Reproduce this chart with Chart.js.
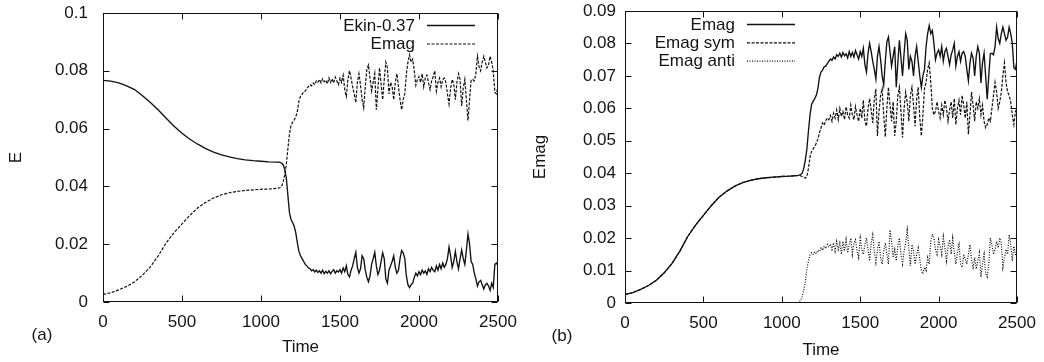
<!DOCTYPE html>
<html>
<head>
<meta charset="utf-8">
<script src="https://cdn.jsdelivr.net/npm/chart.js@4.4.1/dist/chart.umd.min.js"></script>
<style>
  html, body { margin: 0; padding: 0; background: #fff; }
  body { width: 1044px; height: 362px; position: relative; overflow: hidden; }
  canvas { position: absolute; top: 0; }
</style>
</head>
<body>
<canvas id="ca" width="520" height="362" style="left:0"></canvas>
<canvas id="cb" width="524" height="362" style="left:520px"></canvas>
<script>
// ---------- DATA ----------
const time = [
  0,50,100,150,200,250,300,350,400,450,500,550,600,650,700,750,800,850,900,950,1000,1050,
  1100,1110,1120,1130,1140,1150,1160,1170,1180,1190,
  1200,1210,1220,1230,1240,1250,1260,1270,1280,1290,
  1300,1310,1320,1330,1340,1350,1360,1370,1380,1390,
  1400,1410,1420,1430,1440,1450,1460,1470,1480,1490,
  1500,1510,1520,1530,1540,1550,1560,1570,1580,1590,
  1600,1610,1620,1630,1640,1650,1660,1670,1680,1690,
  1700,1710,1720,1730,1740,1750,1760,1770,1780,1790,
  1800,1810,1820,1830,1840,1850,1860,1870,1880,1890,
  1900,1910,1920,1930,1940,1950,1960,1970,1980,1990,
  2000,2010,2020,2030,2040,2050,2060,2070,2080,2090,
  2100,2110,2120,2130,2140,2150,2160,2170,2180,2190,
  2200,2210,2220,2230,2240,2250,2260,2270,2280,2290,
  2300,2310,2320,2330,2340,2350,2360,2370,2380,2390,
  2400,2410,2420,2430,2440,2450,2460,2470,2480,2490,
  2500
];

// Ekin - 0.37
const ekin = [
  0.0767,0.0764,0.0758,0.0748,0.0735,0.0714,0.0690,0.0664,0.0636,0.0608,0.0584,0.0563,0.0546,0.0531,0.0519,0.0509,0.0502,0.0496,0.0492,0.0489,0.0487,0.0485,
  0.0484,0.0484,0.0483,0.0481,0.0475,0.0460,0.0430,0.0370,0.0310,0.0285,
  0.0275,0.0262,0.0240,0.0205,0.0175,0.0160,0.0150,0.0140,0.0130,0.0125,
  0.0118,0.0115,0.0108,0.0112,0.0104,0.0110,0.0102,0.0108,0.0100,0.0110,
  0.0098,0.0106,0.0100,0.0108,0.0098,0.0106,0.0112,0.0100,0.0108,0.0104,
  0.0112,0.0100,0.0118,0.0105,0.0125,0.0095,0.0087,0.0110,0.0125,0.0150,
  0.0172,0.0120,0.0100,0.0115,0.0160,0.0150,0.0110,0.0085,0.0070,0.0090,
  0.0130,0.0150,0.0172,0.0125,0.0095,0.0110,0.0140,0.0170,0.0150,0.0080,
  0.0065,0.0110,0.0125,0.0140,0.0160,0.0120,0.0100,0.0110,0.0150,0.0178,
  0.0170,0.0150,0.0090,0.0060,0.0050,0.0060,0.0065,0.0085,0.0100,0.0090,
  0.0105,0.0095,0.0110,0.0100,0.0108,0.0095,0.0115,0.0105,0.0120,0.0110,
  0.0105,0.0125,0.0110,0.0130,0.0115,0.0135,0.0120,0.0130,0.0150,0.0190,
  0.0160,0.0120,0.0140,0.0175,0.0140,0.0115,0.0150,0.0180,0.0150,0.0130,
  0.0180,0.0235,0.0200,0.0140,0.0130,0.0100,0.0080,0.0055,0.0070,0.0075,
  0.0060,0.0045,0.0060,0.0065,0.0055,0.0040,0.0065,0.0050,0.0130,0.0135,
  0.0125
];

// Emag (total)
const emag = [
  0.0026,0.0032,0.0042,0.0054,0.0070,0.0093,0.0122,0.0160,0.0205,0.0240,0.0270,0.0300,0.0326,0.0345,0.0360,0.0371,0.0378,0.0383,0.0386,0.0388,0.0390,0.0391,
  0.0393,0.0394,0.0396,0.0400,0.0415,0.0440,0.0475,0.0530,0.0580,0.0612,
  0.0622,0.0630,0.0640,0.0660,0.0695,0.0712,0.0718,0.0728,0.0730,0.0738,
  0.0745,0.0752,0.0748,0.0758,0.0752,0.0765,0.0760,0.0770,0.0758,0.0772,
  0.0762,0.0768,0.0755,0.0775,0.0760,0.0772,0.0758,0.0778,0.0765,0.0752,
  0.0775,0.0760,0.0785,0.0735,0.0712,0.0770,0.0800,0.0775,0.0745,0.0720,
  0.0690,0.0760,0.0790,0.0750,0.0700,0.0672,0.0745,0.0805,0.0820,0.0775,
  0.0730,0.0760,0.0790,0.0665,0.0740,0.0810,0.0755,0.0700,0.0770,0.0830,
  0.0810,0.0720,0.0760,0.0745,0.0700,0.0760,0.0790,0.0745,0.0700,0.0665,
  0.0700,0.0720,0.0790,0.0830,0.0855,0.0830,0.0840,0.0800,0.0750,0.0770,
  0.0780,0.0760,0.0790,0.0745,0.0775,0.0785,0.0760,0.0735,0.0765,0.0780,
  0.0800,0.0730,0.0760,0.0775,0.0745,0.0770,0.0775,0.0760,0.0720,0.0685,
  0.0740,0.0770,0.0755,0.0700,0.0760,0.0790,0.0770,0.0678,0.0740,0.0770,
  0.0700,0.0628,0.0700,0.0768,0.0770,0.0765,0.0790,0.0850,0.0815,0.0800,
  0.0830,0.0850,0.0830,0.0810,0.0820,0.0850,0.0830,0.0800,0.0725,0.0720,
  0.0748
];

// Emag symmetric part
const emagSym = [
  0.0026,0.0032,0.0042,0.0054,0.0070,0.0093,0.0122,0.0160,0.0205,0.0240,0.0270,0.0300,0.0326,0.0345,0.0360,0.0371,0.0378,0.0383,0.0386,0.0388,0.0390,0.0391,
  0.0393,0.0393,0.0392,0.0390,0.0387,0.0385,0.0390,0.0415,0.0450,0.0468,
  0.0475,0.0483,0.0492,0.0505,0.0525,0.0540,0.0555,0.0548,0.0562,0.0570,
  0.0565,0.0578,0.0560,0.0585,0.0570,0.0595,0.0565,0.0600,0.0575,0.0590,
  0.0565,0.0605,0.0580,0.0570,0.0610,0.0580,0.0565,0.0605,0.0580,0.0560,
  0.0600,0.0570,0.0625,0.0560,0.0545,0.0600,0.0630,0.0595,0.0555,0.0630,
  0.0660,0.0515,0.0590,0.0640,0.0660,0.0580,0.0512,0.0600,0.0665,0.0610,
  0.0560,0.0620,0.0515,0.0560,0.0640,0.0665,0.0590,0.0510,0.0600,0.0650,
  0.0620,0.0560,0.0640,0.0665,0.0610,0.0545,0.0630,0.0665,0.0570,0.0515,
  0.0580,0.0660,0.0680,0.0720,0.0740,0.0680,0.0600,0.0580,0.0590,0.0620,
  0.0590,0.0570,0.0610,0.0580,0.0625,0.0600,0.0560,0.0595,0.0620,0.0570,
  0.0630,0.0550,0.0600,0.0625,0.0580,0.0640,0.0610,0.0570,0.0620,0.0520,
  0.0580,0.0650,0.0610,0.0560,0.0620,0.0600,0.0630,0.0580,0.0610,0.0560,
  0.0540,0.0550,0.0570,0.0560,0.0600,0.0640,0.0680,0.0650,0.0600,0.0620,
  0.0650,0.0700,0.0740,0.0680,0.0650,0.0640,0.0620,0.0580,0.0550,0.0590,
  0.0600
];

// Emag antisymmetric part
const emagAnti = [
  0,0,0,0,0,0,0,0,0,0,0,0,0,0,0,0,0,0,0,0,0,0,
  0.0000,0.0003,0.0008,0.0020,0.0040,0.0065,0.0105,0.0130,0.0148,0.0155,
  0.0150,0.0158,0.0152,0.0162,0.0158,0.0170,0.0162,0.0175,0.0168,0.0180,
  0.0172,0.0182,0.0165,0.0185,0.0160,0.0190,0.0165,0.0185,0.0150,0.0190,
  0.0160,0.0195,0.0155,0.0180,0.0200,0.0150,0.0185,0.0195,0.0160,0.0140,
  0.0200,0.0165,0.0150,0.0180,0.0200,0.0165,0.0130,0.0185,0.0210,0.0160,
  0.0125,0.0165,0.0190,0.0140,0.0120,0.0160,0.0185,0.0150,0.0120,0.0225,
  0.0190,0.0140,0.0165,0.0130,0.0175,0.0200,0.0150,0.0120,0.0160,0.0185,
  0.0225,0.0170,0.0115,0.0180,0.0160,0.0120,0.0150,0.0170,0.0135,0.0100,
  0.0090,0.0110,0.0100,0.0140,0.0120,0.0190,0.0212,0.0200,0.0165,0.0150,
  0.0195,0.0175,0.0150,0.0205,0.0170,0.0130,0.0175,0.0195,0.0150,0.0200,
  0.0155,0.0120,0.0155,0.0180,0.0120,0.0110,0.0150,0.0135,0.0120,0.0150,
  0.0180,0.0135,0.0110,0.0140,0.0105,0.0130,0.0155,0.0080,0.0120,0.0150,
  0.0090,0.0080,0.0120,0.0200,0.0180,0.0150,0.0165,0.0190,0.0170,0.0200,
  0.0185,0.0110,0.0140,0.0165,0.0150,0.0210,0.0180,0.0130,0.0175,0.0150,
  0.0140
];

const xTicks = [0, 500, 1000, 1500, 2000, 2500];
const yTicksA = [0, 0.02, 0.04, 0.06, 0.08, 0.1];
const yTicksB = [0, 0.01, 0.02, 0.03, 0.04, 0.05, 0.06, 0.07, 0.08, 0.09];

const labelsA = ['Ekin-0.37', 'Emag'];
const labelsB = ['Emag', 'Emag sym', 'Emag anti'];

// ---------- RENDERING ----------
const FONT = '"Liberation Sans", Arial, Helvetica, sans-serif';
const TXT = '#141414';
Chart.defaults.font.family = FONT;
Chart.defaults.font.size = 17;
Chart.defaults.color = TXT;

const pts = arr => time.map((t, i) => ({ x: t, y: arr[i] }));

const decor = {
  id: 'decor',
  afterDraw(chart, args, o) {
    const { ctx, chartArea: a } = chart;
    const x = chart.scales.x, y = chart.scales.y;
    ctx.save();
    ctx.strokeStyle = '#111';
    ctx.lineWidth = 1;
    const L = Math.round(a.left) + 0.5, R = Math.round(a.right) - 0.5;
    const T = Math.round(a.top) + 0.5, B = Math.round(a.bottom) - 0.5;
    ctx.strokeRect(L, T, R - L, B - T);
    ctx.beginPath();
    const tl = 6;
    x.ticks.forEach(t => {
      const p = Math.round(x.getPixelForValue(t.value)) + 0.5;
      ctx.moveTo(p, B); ctx.lineTo(p, B - tl);
      ctx.moveTo(p, T); ctx.lineTo(p, T + tl);
    });
    y.ticks.forEach(t => {
      const p = Math.round(y.getPixelForValue(t.value)) + 0.5;
      ctx.moveTo(L, p); ctx.lineTo(L + tl, p);
      ctx.moveTo(R, p); ctx.lineTo(R - tl, p);
    });
    ctx.stroke();

    ctx.fillStyle = TXT;
    ctx.font = '17px ' + FONT;
    ctx.textBaseline = 'middle';
    ctx.textAlign = 'center';
    ctx.fillText(o.xTitle, (a.left + a.right) / 2, o.xTitleY);
    ctx.fillText(o.tag, o.tagX, o.tagY);
    ctx.save();
    ctx.translate(o.yTitleX, (a.top + a.bottom) / 2);
    ctx.rotate(-Math.PI / 2);
    ctx.fillText(o.yTitle, 0, 0);
    ctx.restore();

    // legend (gnuplot style: text right-aligned, sample on the right)
    chart.data.datasets.forEach((ds, i) => {
      const yy = o.legY + i * o.legStep;
      ctx.textAlign = 'right';
      ctx.fillStyle = TXT;
      ctx.fillText(ds.label, o.legX, yy);
      ctx.beginPath();
      ctx.setLineDash(ds.borderDash || []);
      ctx.lineWidth = ds.borderWidth;
      ctx.strokeStyle = ds.borderColor;
      ctx.moveTo(o.legX + 12, yy - 0.5);
      ctx.lineTo(o.legX + 60, yy - 0.5);
      ctx.stroke();
      ctx.setLineDash([]);
    });
    ctx.restore();
  }
};

function makeChart(id, datasets, yMax, yTicks, geom, deco) {
  return new Chart(document.getElementById(id), {
    type: 'line',
    data: { datasets },
    options: {
      responsive: false,
      animation: false,
      events: [],
      layout: { padding: { left: 0, top: geom.top, right: geom.right, bottom: 0 } },
      elements: { point: { radius: 0 }, line: { tension: 0 } },
      scales: {
        x: {
          type: 'linear', min: 0, max: 2500,
          grid: { display: false, drawTicks: false },
          border: { display: false },
          ticks: { padding: geom.xPad, maxRotation: 0, autoSkip: false, color: TXT,
                    callback: v => String(v) },
          afterBuildTicks: s => { s.ticks = xTicks.map(v => ({ value: v })); },
          afterFit: s => { s.height = geom.xH; s.paddingLeft = 0; s.paddingRight = 0; s.paddingTop = 0; s.paddingBottom = 0; }
        },
        y: {
          type: 'linear', min: 0, max: yMax,
          grid: { display: false, drawTicks: false },
          border: { display: false },
          ticks: { padding: geom.yPad, color: TXT,
                    callback: v => String(parseFloat(Number(v).toFixed(3))) },
          afterBuildTicks: s => { s.ticks = yTicks.map(v => ({ value: v })); },
          afterFit: s => { s.width = geom.yW; s.paddingLeft = 0; s.paddingRight = 0; s.paddingTop = 0; s.paddingBottom = 0; }
        }
      },
      plugins: { legend: { display: false }, tooltip: { enabled: false }, decor: deco }
    },
    plugins: [decor]
  });
}

const lineCol = '#111';

makeChart('ca', [
  { label: labelsA[0], data: pts(ekin), borderColor: lineCol, borderWidth: 1.35, borderDash: [] },
  { label: labelsA[1], data: pts(emag), borderColor: lineCol, borderWidth: 1.2, borderDash: [3, 1.5] }
], 0.1, yTicksA,
  { top: 13, right: 22, xH: 60, yW: 103, xPad: 10, yPad: 15 },
  { xTitle: 'Time', xTitleY: 347, yTitle: 'E', yTitleX: 16, tag: '(a)', tagX: 42, tagY: 335,
    legX: 415, legY: 26, legStep: 18.5 });

makeChart('cb', [
  { label: labelsB[0], data: pts(emag), borderColor: lineCol, borderWidth: 1.35, borderDash: [] },
  { label: labelsB[1], data: pts(emagSym), borderColor: lineCol, borderWidth: 1.2, borderDash: [3, 1.5] },
  { label: labelsB[2], data: pts(emagAnti), borderColor: lineCol, borderWidth: 1.2, borderDash: [1, 1.5] }
], 0.09, yTicksB,
  { top: 11, right: 27, xH: 59, yW: 105, xPad: 10, yPad: 9 },
  { xTitle: 'Time', xTitleY: 350, yTitle: 'Emag', yTitleX: 20, tag: '(b)', tagX: 42, tagY: 336,
    legX: 215, legY: 25, legStep: 18.3 });
</script>
</body>
</html>
